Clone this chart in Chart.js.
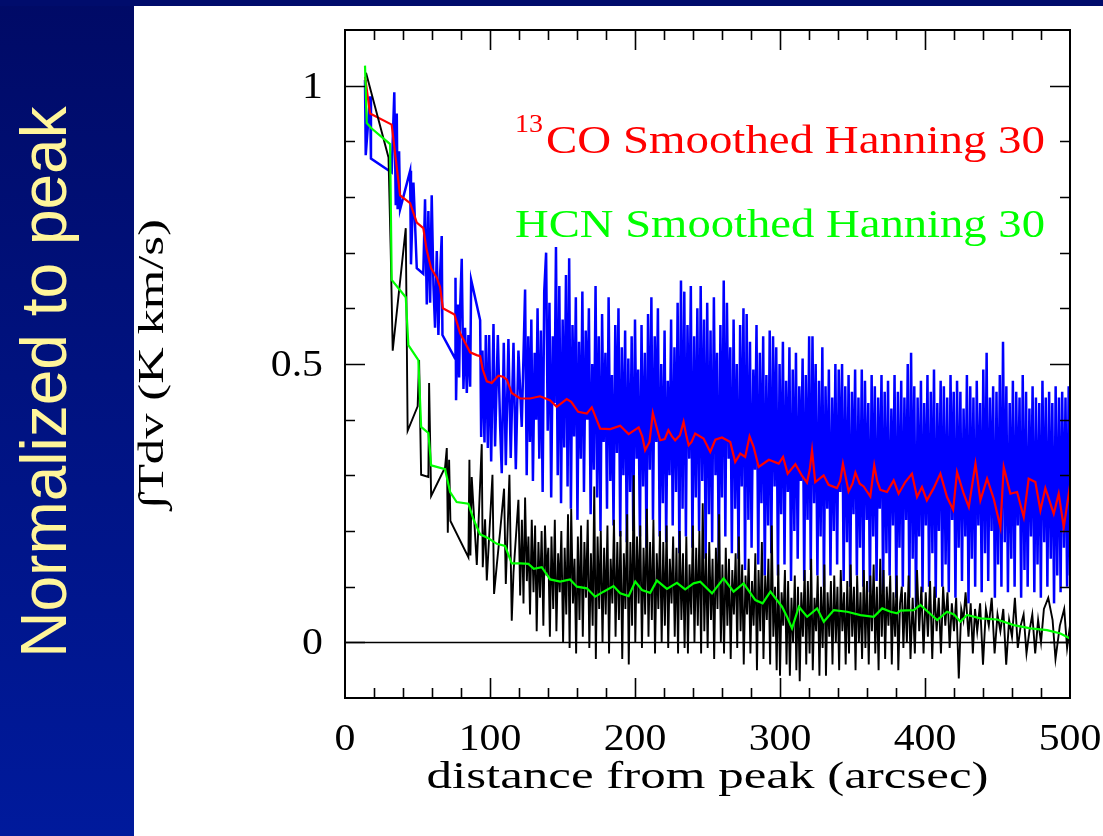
<!DOCTYPE html>
<html>
<head>
<meta charset="utf-8">
<script src="https://cdn.jsdelivr.net/npm/chart.js@4.4.1/dist/chart.umd.min.js"></script>
<style>
  html, body { margin: 0; padding: 0; background: #fff; }
  #page { position: relative; width: 1103px; height: 836px; overflow: hidden; background: #fff; }
  #side { position: absolute; left: 0; top: 0; width: 134px; height: 836px;
          background: linear-gradient(180deg, #000a66 0%, #00127f 45%, #001a9c 100%); }
  #topbar { position: absolute; left: 0; top: 0; width: 1103px; height: 6px; background: #000c6c; }
  #sideText { position: absolute; left: 44px; top: 382px; white-space: nowrap;
              transform: translate(-50%, -50%) rotate(-90deg);
              font-family: "Liberation Sans", Arial, sans-serif; font-size: 64px; color: #fff59a; }
  #c { position: absolute; left: 0; top: 0; }
</style>
</head>
<body>
<div id="page">
  <div id="side"></div>
  <div id="topbar"></div>
  <div id="sideText">Normalized to peak</div>
  <canvas id="c" width="1103" height="836"></canvas>
</div>
<script>
(function () {
  "use strict";

  // axis ticks
  const xTickValues = [0, 100, 200, 300, 400, 500];
  const xTickLabels = ["0", "100", "200", "300", "400", "500"];
  const yTickValues = [0, 0.5, 1];
  const yTickLabels = ["0", "0.5", "1"];

  // 13CO raw profile [distance, value]
  const co13Raw = [
    [13.8,1.01],[14.3,0.875],[17.3,0.981],[17.9,0.869],[32.2,0.844],[34,0.988],[35,0.785],[35.7,0.95],
    [36.3,0.778],[37.3,0.882],[38,0.778],[44.9,0.847],[45.5,0.679],[47.2,0.826],[49.5,0.672],[54,0.662],
    [55.2,0.796],[56.4,0.607],[57.5,0.775],[58.7,0.61],[59.8,0.803],[61,0.641],[62.1,0.565],[63.3,0.703],
    [64.4,0.552],[65.6,0.662],[66.7,0.73],[67.2,0.552],[75.9,0.51],[76.2,0.655],[76.6,0.435],[77.8,0.607],
    [78.7,0.476],[79.4,0.6],[80.5,0.689],[81.7,0.455],[82.8,0.565],[84,0.448],[85.1,0.552],[86.3,0.459],
    [87,0.651],[93.2,0.579],[93.9,0.369],[94.8,0.524],[96.2,0.359],[97.1,0.552],[98.5,0.349],[99.4,0.552],
    [100.8,0.325],[102.4,0.572],[103.5,0.352],[105.4,0.552],[107,0.387],[108.1,0.304],[109.5,0.538],
    [110.9,0.318],[112.7,0.545],[114.3,0.331],[116.2,0.538],[117.8,0.311],[119.6,0.524],[121.9,0.387],
    [124.2,0.634],[125.3,0.30],[126.4,0.55],[127.5,0.36],[128.5,0.58],[129.6,0.29],[130.8,0.52],[131.9,0.40],
    [132.8,0.60],[134,0.33],[135.1,0.56],[136.3,0.27],[137.4,0.63],[138.7,0.70],[139.8,0.38],[141,0.61],
    [142.2,0.26],[143.3,0.55],[144.5,0.43],[145.5,0.71],[146.7,0.30],[147.8,0.64],[149,0.25],[150.1,0.58],
    [151.2,0.35],[152.4,0.66],[153.5,0.28],[154.6,0.69],[155.8,0.24],[156.9,0.57],[158,0.37],[159.2,0.62],
    [160.3,0.22],[161.4,0.54],[162.6,0.33],[163.7,0.63],[164.8,0.27],[166,0.56],[167.1,0.40],[168.2,0.60],
    [169.4,0.23],[170.5,0.50],[171.6,0.31],[172.8,0.64],[173.9,0.26],[175,0.55],[176.2,0.20],[177.3,0.59],
    [178.4,0.36],[179.6,0.52],[180.7,0.24],[181.8,0.62],[183,0.29],[184.1,0.48],[185.2,0.21],[186.4,0.57],
    [187.5,0.34],[188.6,0.60],[189.8,0.19],[190.9,0.53],[192,0.30],[193.2,0.56],[194.3,0.18],[195.4,0.51],
    [196.6,0.27],[197.7,0.55],[198.8,0.20],[200,0.58],[201.1,0.33],[202.2,0.49],[203.4,0.19],[204.5,0.57],
    [205.6,0.28],[206.8,0.52],[207.9,0.17],[209,0.59],[210.2,0.31],[211.3,0.62],[212.4,0.22],[213.6,0.55],
    [214.7,0.36],[215.8,0.60],[217,0.19],[218.1,0.50],[219.2,0.25],[220.4,0.56],[221.5,0.18],[222.6,0.47],
    [223.8,0.30],[224.9,0.58],[226,0.21],[227.2,0.53],[228.3,0.27],[229.4,0.61],[230.6,0.16],[231.7,0.65],
    [232.8,0.24],[234,0.63],[235.1,0.19],[236.2,0.57],[237.4,0.33],[238.5,0.64],[239.6,0.17],[240.8,0.55],
    [241.9,0.26],[243,0.60],[244.2,0.20],[245.3,0.64],[246.4,0.29],[247.6,0.58],[248.7,0.15],[249.8,0.61],
    [251,0.23],[252.1,0.56],[253.2,0.18],[254.4,0.62],[255.5,0.30],[256.6,0.52],[257.8,0.14],[258.9,0.57],
    [260,0.26],[261.2,0.65],[262.3,0.19],[263.4,0.61],[264.6,0.33],[265.7,0.53],[266.8,0.16],[268,0.58],
    [269.1,0.24],[270.2,0.50],[271.4,0.15],[272.5,0.57],[273.6,0.28],[274.8,0.60],[275.9,0.13],[277,0.59],
    [278.2,0.22],[279.3,0.54],[280.4,0.17],[281.6,0.49],[282.7,0.31],[283.8,0.57],[285,0.14],[286.1,0.52],
    [287.2,0.25],[288.4,0.55],[289.5,0.12],[290.6,0.48],[291.8,0.21],[292.9,0.56],[294,0.16],[295.2,0.55],
    [296.3,0.28],[297.4,0.53],[298.6,0.12],[299.7,0.50],[300.8,0.23],[302,0.54],[303.1,0.14],[304.2,0.47],
    [305.4,0.27],[306.5,0.53],[307.6,0.11],[308.8,0.49],[309.9,0.20],[311,0.52],[312.2,0.15],[313.3,0.46],
    [314.4,0.29],[315.6,0.51],[316.7,0.11],[317.8,0.48],[319,0.22],[320.1,0.55],[321.2,0.13],[322.4,0.55],
    [323.5,0.25],[324.6,0.50],[325.8,0.12],[326.9,0.47],[328,0.19],[329.2,0.53],[330.3,0.10],[331.4,0.46],
    [332.6,0.24],[333.7,0.49],[334.8,0.12],[336,0.44],[337.1,0.20],[338.2,0.50],[339.4,0.14],[340.5,0.49],
    [341.6,0.27],[342.8,0.50],[343.9,0.11],[345,0.46],[346.2,0.18],[347.3,0.48],[348.4,0.10],[349.6,0.45],
    [350.7,0.23],[351.8,0.49],[353,0.12],[354.1,0.44],[355.2,0.17],[356.4,0.49],[357.5,0.10],[358.6,0.47],
    [359.8,0.22],[360.9,0.43],[362,0.09],[363.2,0.48],[364.3,0.19],[365.4,0.46],[366.6,0.11],[367.7,0.44],
    [368.8,0.24],[370,0.48],[371.1,0.09],[372.2,0.45],[373.4,0.16],[374.5,0.47],[375.6,0.12],[376.8,0.42],
    [377.9,0.21],[379,0.48],[380.2,0.08],[381.3,0.45],[382.4,0.17],[383.6,0.47],[384.7,0.10],[385.8,0.44],
    [387,0.22],[388.1,0.50],[389.2,0.08],[390.4,0.52],[391.5,0.15],[392.6,0.46],[393.8,0.06],[394.9,0.44],
    [396,0.19],[397.2,0.47],[398.3,0.09],[399.4,0.43],[400.6,0.21],[401.7,0.48],[402.8,0.10],[404,0.45],
    [405.1,0.16],[406.2,0.49],[407.4,0.08],[408.5,0.43],[409.6,0.20],[410.8,0.47],[411.9,0.10],[413,0.46],
    [414.2,0.14],[415.3,0.44],[416.4,0.09],[417.6,0.48],[418.7,0.22],[419.8,0.45],[421,0.08],[422.1,0.47],
    [423.2,0.17],[424.4,0.45],[425.5,0.11],[426.6,0.42],[427.8,0.19],[428.9,0.48],[430,0.07],[431.2,0.46],
    [432.3,0.15],[433.4,0.44],[434.6,0.10],[435.7,0.47],[436.8,0.21],[438,0.43],[439.1,0.09],[440.2,0.49],
    [441.4,0.16],[442.5,0.52],[443.6,0.11],[444.8,0.44],[445.9,0.20],[447,0.46],[448.2,0.08],[449.3,0.45],
    [450.4,0.14],[451.6,0.48],[452.7,0.10],[453.8,0.54],[455,0.18],[456.1,0.46],[457.2,0.09],[458.4,0.43],
    [459.5,0.15],[460.6,0.47],[461.8,0.10],[462.9,0.45],[464,0.21],[465.2,0.44],[466.3,0.08],[467.4,0.48],
    [468.6,0.13],[469.7,0.45],[470.8,0.10],[472,0.42],[473.1,0.19],[474.2,0.46],[475.4,0.09],[476.5,0.44],
    [477.6,0.14],[478.8,0.43],[479.9,0.08],[481,0.47],[482.2,0.18],[483.3,0.44],[484.4,0.10],[485.6,0.45],
    [486.7,0.15],[487.8,0.43],[489,0.07],[490.1,0.46],[491.2,0.12],[492.4,0.44],[493.5,0.09],[494.6,0.45],
    [495.8,0.17],[496.9,0.44],[498,0.10],[499.1,0.46],[500,0.12]
  ];

  // 13CO, Hanning 30 smoothed
  const co13Smooth = [
    [13.8,1.016],[17.3,0.95],[32.2,0.93],[38,0.803],[44.9,0.789],[49.5,0.754],[54,0.744],[56.3,0.705],
    [59.4,0.672],[63.3,0.655],[65.6,0.638],[67.5,0.6],[75.5,0.589],[79.4,0.555],[86.3,0.521],[90.8,0.516],
    [93.2,0.514],[95,0.49],[97.8,0.469],[101.2,0.466],[105.8,0.479],[109,0.477],[111.6,0.472],[115,0.448],
    [120.8,0.438],[127.6,0.438],[134.5,0.442],[141.3,0.435],[146,0.423],[152.9,0.437],[156,0.432],
    [160.8,0.414],[166.8,0.411],[170.2,0.422],[176,0.384],[183,0.383],[189.8,0.389],[195.6,0.374],
    [202.5,0.386],[205,0.37],[207,0.345],[210,0.36],[212.3,0.412],[214.5,0.39],[217.4,0.363],[220.5,0.365],
    [223,0.381],[225.5,0.37],[227.7,0.363],[231,0.372],[233.5,0.396],[235.5,0.37],[237,0.354],[239,0.36],
    [241.5,0.375],[247.3,0.366],[251.9,0.342],[255.4,0.364],[260,0.368],[265.7,0.36],[269.1,0.324],
    [272.6,0.339],[276,0.333],[279,0.37],[281.8,0.351],[285.3,0.315],[292.3,0.328],[299.1,0.321],
    [302.1,0.333],[305.3,0.303],[310.6,0.32],[315,0.3],[318.6,0.287],[320.5,0.31],[322.1,0.345],
    [324.3,0.288],[330.1,0.3],[333.5,0.283],[339.3,0.277],[341.5,0.29],[343.4,0.321],[347.3,0.271],
    [350,0.285],[352,0.305],[355,0.285],[357.7,0.28],[362.3,0.262],[365,0.318],[367,0.29],[369.2,0.274],
    [373.8,0.27],[378.4,0.291],[381.8,0.267],[386.4,0.288],[391,0.303],[394.5,0.261],[397.9,0.279],
    [401.3,0.255],[406,0.277],[410.6,0.303],[415.2,0.261],[419.4,0.238],[422.1,0.306],[426.7,0.267],
    [430.2,0.243],[434.8,0.321],[438.2,0.255],[442.8,0.294],[447.4,0.258],[452,0.207],[454.3,0.315],
    [458.9,0.267],[463.5,0.27],[468.1,0.225],[471.5,0.294],[476.1,0.288],[479.6,0.237],[483,0.277],
    [488.8,0.231],[492.2,0.267],[495.7,0.207],[500,0.282]
  ];

  // HCN raw profile
  const hcnRaw = [
    [14.5,1.023],[30,0.871],[31.5,0.706],[32.9,0.524],[41.9,0.744],[43.2,0.38],[50.1,0.424],[51.1,0.507],
    [52.5,0.301],[57.5,0.297],[58,0.466],[59.4,0.263],[69,0.314],[70.2,0.349],[70.9,0.197],[71.8,0.328],
    [72.7,0.218],[85.1,0.153],[85.8,0.328],[86.5,0.156],[87.4,0.297],[90.9,0.139],[94.3,0.356],[95,0.135],
    [96.6,0.221],[97.8,0.111],[101.7,0.301],[102.8,0.087],[104.7,0.139],[107,0.2],[109.7,0.276],[110.9,0.105],
    [113.4,0.301],[115,0.039],[116.2,0.125],[119.6,0.256],[120.8,0.084],
    [122,0.22],[123.1,0.07],[124.2,0.26],[125.4,0.11],[126.5,0.19],[127.6,0.05],[128.8,0.22],[130,0.09],
    [131.1,0.21],[132.2,0.02],[133.4,0.18],[134.5,0.08],[135.6,0.20],[136.8,0.03],[137.9,0.21],[139,0.12],
    [140.2,0.17],[141.3,0.01],[142.4,0.19],[143.6,0.06],[144.7,0.22],[145.8,0.02],[147,0.16],[148.1,0.09],
    [149.2,0.20],[150.4,0.00],[151.5,0.17],[152.6,0.05],[153.8,0.23],[154.9,-0.01],[156,0.24],[157.2,0.07],
    [158.3,0.15],[159.4,-0.02],[160.6,0.19],[161.7,0.04],[162.8,0.21],[164,0.01],[165.1,0.18],[166.2,0.08],
    [167.4,0.22],[168.5,-0.01],[169.6,0.16],[170.8,0.03],[171.9,0.28],[173,-0.03],[174.2,0.19],[175.3,0.06],
    [176.4,0.20],[177.6,0.00],[178.7,0.17],[179.8,0.05],[181,0.21],[182.1,-0.02],[183.2,0.15],[184.4,0.07],
    [185.5,0.22],[186.6,0.01],[187.8,0.18],[188.9,0.04],[190,0.20],[191.2,-0.03],[192.3,0.16],[193.4,0.06],
    [194.6,0.23],[195.7,-0.04],[196.8,0.18],[198,0.03],[199.1,0.30],[200.2,0.00],[201.4,0.19],[202.5,0.07],
    [203.6,0.21],[204.8,-0.01],[205.9,0.17],[207,0.05],[208.2,0.24],[209.3,0.01],[210.4,0.18],[211.6,0.04],
    [212.7,0.22],[213.8,-0.02],[215,0.16],[216.1,0.06],[217.2,0.20],[218.4,0.00],[219.5,0.18],[220.6,0.03],
    [221.8,0.21],[222.9,-0.01],[224,0.15],[225.2,0.07],[226.3,0.19],[227.4,0.01],[228.6,0.17],[229.7,-0.02],
    [230.8,0.20],[232,0.04],[233.1,0.16],[234.2,-0.01],[235.4,0.19],[236.5,-0.02],[237.6,0.14],[238.8,0.05],
    [239.9,0.21],[241,0.00],[242.2,0.17],[243.3,0.03],[244.4,0.20],[245.6,-0.02],[246.7,0.25],[247.8,0.02],
    [249,0.16],[250.1,-0.01],[251.2,0.18],[252.4,0.04],[253.5,0.15],[254.6,-0.03],[255.8,0.17],[256.9,0.06],
    [258,0.23],[259.2,0.00],[260.3,0.14],[261.4,-0.02],[262.6,0.17],[263.7,0.03],[264.8,0.15],[266,-0.03],
    [267.1,0.13],[268.2,0.05],[269.4,0.16],[270.5,-0.01],[271.6,0.19],[272.8,0.02],[273.9,0.14],[275,-0.04],
    [276.2,0.12],[277.3,0.05],[278.4,0.15],[279.6,-0.02],[280.7,0.11],[281.8,0.03],[283,0.16],[284.1,-0.05],
    [285.2,0.13],[286.4,0.02],[287.5,0.18],[288.6,-0.03],[289.8,0.12],[290.9,0.04],[292,0.15],[293.2,-0.04],
    [294.3,0.21],[295.4,0.01],[296.6,0.10],[297.7,-0.05],[298.8,0.14],[300,-0.06],[301.1,0.09],[302.2,0.03],
    [303.4,0.13],[304.5,-0.04],[305.6,0.11],[306.8,-0.06],[307.9,0.08],[309,0.00],[310.2,0.12],[311.3,-0.05],
    [312.4,0.10],[313.6,-0.07],[314.7,0.09],[315.8,0.01],[317,0.13],[318.1,-0.04],[319.2,0.11],[320.4,-0.02],
    [321.5,0.15],[322.6,-0.05],[323.8,0.08],[324.9,0.02],[326,0.12],[327.2,-0.06],[328.3,0.10],[329.4,-0.01],
    [330.6,0.14],[331.7,-0.06],[332.8,0.09],[334,0.01],[335.1,0.11],[336.2,-0.04],[337.4,0.12],[338.5,0.00],
    [339.6,0.10],[340.8,-0.05],[341.9,0.13],[343,0.02],[344.2,0.09],[345.3,-0.04],[346.4,0.11],[347.6,-0.02],
    [348.7,0.14],[349.8,0.01],[351,0.10],[352.1,-0.05],[353.2,0.12],[354.4,0.00],[355.5,0.09],[356.6,-0.03],
    [357.8,0.13],[358.9,-0.01],[360,0.11],[361.2,-0.04],[362.3,0.12],[363.4,0.02],[364.6,0.14],[365.7,-0.02],
    [366.8,0.10],[368,-0.05],[369.1,0.15],[370.2,0.01],[371.4,0.13],[372.5,-0.03],[373.6,0.10],[374.8,0.03],
    [376,0.12],[377.1,-0.04],[378.2,0.09],[379.4,0.01],[380.5,0.12],[381.6,-0.05],[382.8,0.07],[384,0.10],
    [385.1,-0.01],[386.3,0.09],[387.5,0.00],[388.7,0.12],[390,-0.03],[391.5,0.08],[393,-0.02],[394.5,0.13],
    [396,0.02],[397.5,0.10],[399,-0.02],[400.5,0.09],[402,0.01],[403.5,0.11],[405,-0.03],[406.5,0.10],
    [408,0.02],[409.5,0.08],[411,-0.02],[412.5,0.10],[414,0.03],[415.5,0.09],[417,-0.01],[418.5,0.07],
    [420,0.02],[421.5,0.08],[423.3,-0.065],[425,0.06],[426.5,0.04],[428,0.09],[430,0.01],[431.5,0.07],
    [433,-0.02],[434.5,0.06],[436,0.02],[438,0.07],[440,-0.04],[442,0.06],[444,0.03],[446,0.08],
    [448,-0.02],[450,0.05],[452,0.02],[454,0.06],[456,-0.04],[458,0.04],[460,0.01],[462,0.08],
    [464,-0.01],[466,0.03],[468,0.05],[470,-0.02],[472,0.02],[474,0.05],[476,-0.02],[478,0.04],
    [480,0.00],[482,0.06],[485,0.08],[488,0.04],[490,-0.03],[493,0.03],[496,0.06],[498,-0.01],[500,0.03]
  ];

  // HCN, Hanning 30 smoothed
  const hcnSmooth = [
    [13.8,1.036],[15,0.933],[18.4,0.923],[31.1,0.895],[32.2,0.651],[41.9,0.62],[43.7,0.534],[50.6,0.507],
    [52.5,0.387],[57.5,0.376],[59.4,0.318],[69,0.311],[72.5,0.27],[77,0.252],[85.1,0.249],[88.6,0.221],
    [93.2,0.194],[98.9,0.187],[104.7,0.177],[110.4,0.173],[115,0.142],[120.8,0.142],[126.5,0.141],
    [130.2,0.132],[135.7,0.135],[141.5,0.113],[148.4,0.109],[155.2,0.113],[160,0.1],[166.8,0.097],
    [172.5,0.082],[178.3,0.091],[185.2,0.101],[189.8,0.088],[195.6,0.083],[200.2,0.109],[204.8,0.094],
    [210.5,0.089],[215.1,0.111],[222,0.096],[228.9,0.107],[234.6,0.095],[240.4,0.106],[245,0.109],
    [253.1,0.088],[261.1,0.115],[268,0.091],[274.9,0.106],[283,0.076],[288,0.07],[293.4,0.091],
    [301.4,0.064],[305,0.045],[308.3,0.025],[313,0.064],[318.7,0.046],[325.6,0.061],[330.2,0.037],
    [337.1,0.058],[346.3,0.055],[355.5,0.049],[364.7,0.046],[370.5,0.061],[376.2,0.055],[380.7,0.052],
    [383,0.057],[392.2,0.058],[396.8,0.067],[402,0.055],[408.4,0.04],[415.2,0.055],[420,0.05],
    [424.4,0.037],[429,0.049],[438.2,0.043],[449.7,0.041],[461.2,0.031],[472.7,0.025],[484.2,0.022],
    [493.4,0.016],[500,0.007]
  ];

  const SERIF = '"Liberation Serif", "Times New Roman", serif';

  function pts(arr) {
    return arr.map(function (p) { return { x: p[0], y: p[1] }; });
  }

  // draws text, stretched horizontally to a target width (Hershey-style wide glyphs)
  function label(ctx, text, x, y, o) {
    ctx.save();
    ctx.font = o.size + "px " + SERIF;
    ctx.fillStyle = o.color || "#000";
    ctx.textBaseline = "alphabetic";
    ctx.textAlign = "left";
    const w = ctx.measureText(text).width;
    const sx = o.width ? o.width / w : (o.sx || 1);
    ctx.translate(x, y);
    if (o.rotate) ctx.rotate(o.rotate);
    ctx.scale(sx, 1);
    let off = 0;
    if (o.align === "center") off = -w / 2;
    else if (o.align === "right") off = -w;
    ctx.fillText(text, off, 0);
    ctx.restore();
  }

  const framePlugin = {
    id: "pgFrame",
    beforeDatasetsDraw(chart) {
      const ctx = chart.ctx, a = chart.chartArea, y = chart.scales.y;
      const y0 = Math.round(y.getPixelForValue(0)) + 0.5;
      ctx.save();
      ctx.strokeStyle = "#000";
      ctx.lineWidth = 1.5;
      ctx.beginPath();
      ctx.moveTo(a.left, y0);
      ctx.lineTo(a.right, y0);
      ctx.stroke();
      ctx.restore();
    },
    afterDraw(chart) {
      const ctx = chart.ctx, a = chart.chartArea;
      const xs = chart.scales.x, ys = chart.scales.y;
      ctx.save();
      ctx.strokeStyle = "#000";
      ctx.lineWidth = 2;
      ctx.strokeRect(a.left, a.top, a.right - a.left, a.bottom - a.top);

      ctx.lineWidth = 1.6;
      ctx.beginPath();
      for (let v = 20; v < 500; v += 20) {
        const px = Math.round(xs.getPixelForValue(v)) + 0.5;
        const len = v % 100 === 0 ? 20 : 10;
        ctx.moveTo(px, a.bottom); ctx.lineTo(px, a.bottom - len);
        ctx.moveTo(px, a.top); ctx.lineTo(px, a.top + len);
      }
      for (let i = 0; i <= 10; i++) {
        const py = Math.round(ys.getPixelForValue(i / 10)) + 0.5;
        const len = i % 5 === 0 ? 20 : 10;
        ctx.moveTo(a.left, py); ctx.lineTo(a.left + len, py);
        ctx.moveTo(a.right, py); ctx.lineTo(a.right - len, py);
      }
      ctx.stroke();
      ctx.restore();

      // tick labels
      xTickValues.forEach(function (v, i) {
        label(ctx, xTickLabels[i], xs.getPixelForValue(v), a.bottom + 52, { size: 38, sx: 1.1, align: "center" });
      });
      yTickValues.forEach(function (v, i) {
        label(ctx, yTickLabels[i], a.left - 22, ys.getPixelForValue(v) + 12, { size: 38, sx: 1.1, align: "right" });
      });

      // axis titles
      label(ctx, "distance from peak (arcsec)", (a.left + a.right) / 2, a.bottom + 90,
        { size: 38, width: 562, align: "center" });
      label(ctx, "\u222BTdv (K km/s)", 163, (a.top + a.bottom) / 2,
        { size: 35, width: 290, align: "center", rotate: -Math.PI / 2 });

      // in-plot legend text
      label(ctx, "13", 515, 132, { size: 26, width: 28, color: "#ff0000" });
      label(ctx, "CO Smoothed Hanning 30", 546, 153, { size: 39, width: 499, color: "#ff0000" });
      label(ctx, "HCN Smoothed Hanning 30", 515, 237, { size: 39, width: 530, color: "#00ff00" });
    }
  };

  const line = { pointRadius: 0, tension: 0, fill: false, borderJoinStyle: "miter" };

  new Chart(document.getElementById("c"), {
    type: "line",
    data: {
      datasets: [
        Object.assign({ label: "13CO", data: pts(co13Raw), borderColor: "#0000ff", borderWidth: 2.5, order: 4 }, line),
        Object.assign({ label: "13CO Smoothed Hanning 30", data: pts(co13Smooth), borderColor: "#ff0000", borderWidth: 2.2, order: 3 }, line),
        Object.assign({ label: "HCN", data: pts(hcnRaw), borderColor: "#000000", borderWidth: 1.9, order: 2 }, line),
        Object.assign({ label: "HCN Smoothed Hanning 30", data: pts(hcnSmooth), borderColor: "#00ff00", borderWidth: 2.2, order: 1 }, line)
      ]
    },
    options: {
      responsive: false,
      animation: false,
      events: [],
      layout: { padding: { left: 345, top: 30, right: 33, bottom: 138 } },
      scales: {
        x: { type: "linear", min: 0, max: 500, display: false },
        y: { type: "linear", min: -0.1, max: 1.1, display: false }
      },
      plugins: { legend: { display: false }, tooltip: { enabled: false } }
    },
    plugins: [framePlugin]
  });
})();
</script>
</body>
</html>
